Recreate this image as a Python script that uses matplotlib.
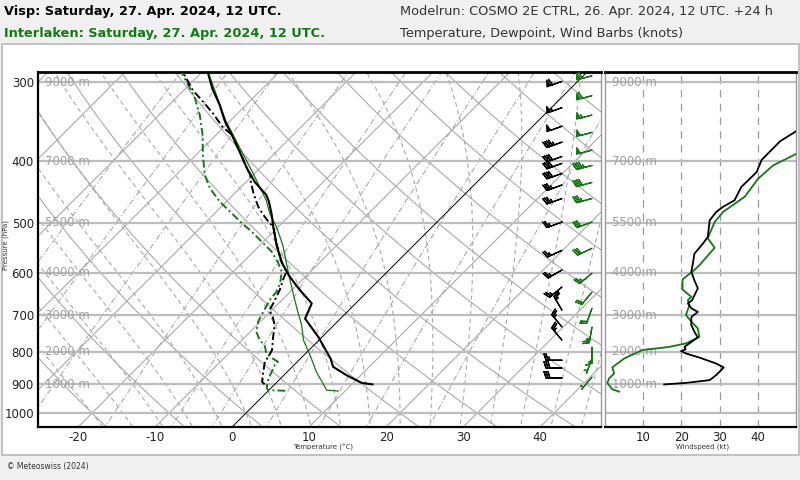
import numpy as np
import matplotlib
matplotlib.use("Agg")
import matplotlib.pyplot as plt
from matplotlib.transforms import blended_transform_factory
from matplotlib.patches import Rectangle
from matplotlib.ticker import NullLocator

# ---------------- data ----------------
visp_t_p = [901, 896, 871, 845, 820, 758, 709, 671, 635, 605, 577, 543, 507, 486,
            463, 452, 431, 410, 386, 363, 346, 326, 307, 290]
visp_t = [12.7, 11.1, 8.1, 5.3, 3.9, -0.5, -4.6, -5.7, -9.4, -12.4, -15.0, -17.8, -20.7, -22.4,
          -24.5, -25.7, -28.9, -31.7, -34.8, -38.0, -40.6, -43.4, -46.5, -49.1]

visp_td_p = [901, 892, 861, 830, 815, 795, 762, 726, 705, 688, 671, 639, 613, 598, 577, 543,
             507, 501, 486, 472, 449, 431, 420, 410, 386, 363, 353, 336, 322, 309, 290]
visp_td = [-1.3, -2.0, -3.1, -4.2, -4.4, -4.8, -6.2, -7.7, -9.0, -10.3, -10.7, -11.6, -12.6, -13.1,
           -15.0, -17.8, -20.7, -21.6, -23.5, -25.2, -27.6, -29.4, -30.4, -31.7, -34.8, -38.0,
           -40.2, -43.2, -46.0, -48.8, -52.3]

intl_t_p = [923, 920, 861, 810, 767, 726, 683, 613, 543, 508, 486, 461, 418, 389, 345, 289]
intl_t = [9.1, 7.5, 3.8, 0.8, -2.0, -4.2, -7.0, -11.8, -17.0, -20.2, -22.6, -25.0, -30.2,
          -34.1, -40.6, -49.2]

intl_td_p = [922, 920, 914, 903, 881, 861, 840, 830, 820, 805, 781, 767, 744, 717, 692, 663,
             643, 624, 598, 577, 556, 536, 514, 501, 480, 463, 441, 420, 391, 363, 338, 318,
             303, 290]
intl_td = [2.2, -0.1, -0.5, -0.9, -1.6, -2.0, -2.5, -2.5, -3.6, -5.1, -6.4, -7.7, -9.2, -10.3,
           -10.9, -11.6, -11.8, -12.4, -13.7, -15.5, -17.6, -20.2, -23.2, -25.2, -28.3, -30.9,
           -33.9, -36.3, -39.1, -41.8, -44.7, -47.5, -50.1, -52.5]

visp_ws_p = [901, 896, 887, 871, 847, 835, 817, 805, 798, 793, 786, 759, 744, 726, 705, 692,
             683, 671, 663, 635, 617, 598, 580, 560, 540, 527, 496, 481, 472, 461, 439, 416,
             398, 372, 358, 340]
visp_ws = [15.5, 21.2, 27.4, 29.1, 31.1, 29.1, 24.7, 21.2, 19.9, 21.1, 20.8, 24.3, 23.4, 22.6,
           22.6, 24.3, 22.6, 21.7, 22.8, 24.3, 23.4, 22.6, 23.0, 23.4, 25.6, 26.9, 27.4, 29.1,
           30.9, 33.9, 35.7, 39.7, 41.0, 45.8, 50.2, 54.0]

intl_ws_p = [925, 917, 896, 881, 866, 847, 820, 795, 786, 776, 758, 735, 717, 700, 675, 663,
             655, 638, 615, 594, 584, 548, 529, 499, 481, 455, 426, 406, 389, 370]
intl_ws = [3.7, 1.9, 0.6, 1.1, 2.4, 1.9, 5.0, 9.8, 16.8, 21.2, 24.7, 24.3, 22.6, 21.2, 22.1,
           21.7, 22.6, 20.3, 20.3, 23.4, 24.7, 28.7, 26.9, 28.7, 30.9, 36.6, 40.1, 44.0, 50.2,
           54.0]

visp_barb_p = [299, 329, 352, 373, 393, 403, 418, 436, 458, 499, 553, 594, 632, 688, 731, 767,
               825, 849, 880]
visp_barb_spd = [60, 55, 50, 46, 42, 40, 39, 35, 34, 27, 24, 23, 24, 24, 23, 24, 27, 31, 28]
visp_barb_dir = [250, 250, 250, 250, 250, 250, 250, 250, 250, 250, 245, 240, 230, 330, 320,
                 320, 270, 270, 270]

intl_barb_p = [293, 315, 338, 360, 384, 406, 432, 458, 499, 549, 601, 644, 683, 731, 787, 819,
               877]
intl_barb_spd = [60, 58, 55, 52, 50, 44, 39, 36, 29, 29, 24, 21, 22, 24, 17, 5, 4]
intl_barb_dir = [255, 255, 255, 255, 255, 255, 255, 255, 250, 245, 230, 220, 200, 190, 180,
                 200, 220]

p_levels = [300, 400, 500, 600, 700, 800, 900, 1000]
height_labels = {300: "9000 m", 400: "7000 m", 500: "5500 m", 600: "4000 m",
                 700: "3000 m", 800: "2000 m", 900: "1000 m"}
t_ticks = [-20, -10, 0, 10, 20, 30, 40]
ws_ticks = [10, 20, 30, 40]

title_visp = "Visp: Saturday, 27. Apr. 2024, 12 UTC."
title_intl = "Interlaken: Saturday, 27. Apr. 2024, 12 UTC."
title_run = "Modelrun: COSMO 2E CTRL, 26. Apr. 2024, 12 UTC. +24 h"
title_var = "Temperature, Dewpoint, Wind Barbs (knots)"

# ---------------- figure layout ----------------
W, H = 800, 480
GREEN = "#117a11"
GRID = "#a9a9a9"
fig = plt.figure(figsize=(8, 4.8), dpi=100, facecolor="#f0f0f0")

def fy(py):
    return 1 - py / H

fig.patches.append(Rectangle((1.5 / W, fy(455)), 797 / W, (455 - 44) / H,
                             transform=fig.transFigure, facecolor="white",
                             edgecolor="#b8b8b8", lw=1.2, zorder=-5))

L, R, T, B = 38, 601, 72, 427
ax = fig.add_axes([L / W, fy(B), (R - L) / W, (B - T) / H])
ax2 = fig.add_axes([605 / W, fy(B), (796 - 605) / W, (B - T) / H])

PB, PT = 1052.0, 289.0
XMIN, XMAX = -25.2, 47.9
px_per_deg = (R - L) / (XMAX - XMIN)
px_per_ln = (B - T) / np.log(PB / PT)
S = px_per_ln / px_per_deg

def skx(t, p):
    return np.asarray(t) + S * np.log(PB / np.asarray(p, dtype=float))

for a in (ax, ax2):
    a.set_yscale("log")
    a.set_ylim(PB, PT)
    a.yaxis.set_minor_locator(NullLocator())
    a.xaxis.set_minor_locator(NullLocator())
    a.tick_params(length=0, labelsize=8.5, colors="#222222", pad=3)
ax.set_xlim(XMIN, XMAX)
ax2.set_xlim(0, 50)

# ---------------- background lines ----------------
pp = np.exp(np.linspace(np.log(1100), np.log(250), 200))
for t0 in range(-140, 60, 10):
    if t0 == 0:
        ax.plot(skx(np.full_like(pp, 0.0), pp), pp, color="black", lw=0.7, zorder=2)
    else:
        ax.plot(skx(np.full_like(pp, float(t0)), pp), pp, color=GRID, lw=0.8, zorder=1)

for th in range(-40, 220, 10):
    tk = (th + 273.15) * (pp / 1000.0) ** 0.2857 - 273.15
    ax.plot(skx(tk, pp), pp, color=GRID, lw=0.8, zorder=1)

Rd, cp, Lv, eps = 287.04, 1005.7, 2.501e6, 0.622

def es(tc):
    return 6.112 * np.exp(17.67 * tc / (tc + 243.5))

def dTdlnp(tk, p):
    e = es(tk - 273.15)
    rs = eps * e / (p - e)
    return (Rd * tk + Lv * rs) / (cp + Lv * Lv * rs * eps / (Rd * tk * tk))

def moist(t0):
    out = {}
    for pend in (250.0, 1100.0):
        lnp = np.linspace(np.log(1000.0), np.log(pend), 300)
        tk = t0 + 273.15
        temps = [tk]
        for i in range(1, len(lnp)):
            h = lnp[i] - lnp[i - 1]
            p0 = np.exp(lnp[i - 1])
            k1 = dTdlnp(tk, p0)
            k2 = dTdlnp(tk + 0.5 * h * k1, np.exp(lnp[i - 1] + 0.5 * h))
            k3 = dTdlnp(tk + 0.5 * h * k2, np.exp(lnp[i - 1] + 0.5 * h))
            k4 = dTdlnp(tk + h * k3, np.exp(lnp[i]))
            tk = tk + h * (k1 + 2 * k2 + 2 * k3 + k4) / 6
            temps.append(tk)
        out[pend] = (np.exp(lnp), np.array(temps) - 273.15)
    p = np.concatenate([out[1100.0][0][::-1], out[250.0][0][1:]])
    t = np.concatenate([out[1100.0][1][::-1], out[250.0][1][1:]])
    return p, t

for t0 in range(-20, 48, 4):
    p, t = moist(float(t0))
    ax.plot(skx(t, p), p, color=GRID, lw=0.8, ls=(0, (4, 3)), zorder=1)

for w in [0.1, 0.2, 0.4, 1, 2, 3, 5, 8, 12, 20]:
    wk = w / 1000.0
    e = pp * wk / (eps + wk)
    lg = np.log(e / 6.112)
    td = 243.5 * lg / (17.67 - lg)
    ax.plot(skx(td, pp), pp, color=GRID, lw=0.8, ls=(0, (5, 2, 1, 2)), zorder=1)

for a in (ax, ax2):
    for p in p_levels:
        a.axhline(p, color="#bdbdbd", lw=1.6, zorder=1.5)
for w in ws_ticks:
    ax2.axvline(w, color="#9a9a9a", lw=0.9, ls=(0, (6, 5)), zorder=1)

for p, lab in height_labels.items():
    ax.text(0.012, p, lab, transform=blended_transform_factory(ax.transAxes, ax.transData),
            color="#a0a0a0", fontsize=8.5, va="center", ha="left", zorder=3)
    ax2.text(0.035, p, lab, transform=blended_transform_factory(ax2.transAxes, ax2.transData),
             color="#a0a0a0", fontsize=8.5, va="center", ha="left", zorder=3)

# ---------------- soundings ----------------
ax.plot(skx(intl_t, intl_t_p), intl_t_p, color=GREEN, lw=0.9, zorder=5)
ax.plot(skx(intl_td, intl_td_p), intl_td_p, color=GREEN, lw=1.4,
        ls=(0, (4, 1.6, 1, 1.6)), zorder=5)
ax.plot(skx(visp_t, visp_t_p), visp_t_p, color="black", lw=1.5, zorder=6)
ax.plot(skx(visp_td, visp_td_p), visp_td_p, color="black", lw=1.4,
        ls=(0, (4, 1.6, 1, 1.6)), zorder=6)

# wind barbs
bt = blended_transform_factory(ax.transAxes, ax.transData)
def uv(spd, d):
    spd = np.asarray(spd, float)
    d = np.deg2rad(np.asarray(d, float))
    return -spd * np.sin(d), -spd * np.cos(d)

BL = 4.8
u, v = uv(visp_barb_spd, visp_barb_dir)
ax.barbs(np.full(len(visp_barb_p), (562 - L) / (R - L)), visp_barb_p, u, v, transform=bt,
         length=BL, lw=0.9, color="black", sizes=dict(emptybarb=0.0), zorder=7)
u, v = uv(intl_barb_spd, intl_barb_dir)
ax.barbs(np.full(len(intl_barb_p), (592 - L) / (R - L)), intl_barb_p, u, v, transform=bt,
         length=BL, lw=0.9, color=GREEN, barbcolor=GREEN, flagcolor=GREEN,
         sizes=dict(emptybarb=0.0), zorder=7)

# wind speed profiles
ax2.plot(intl_ws, intl_ws_p, color=GREEN, lw=1.3, zorder=5)
ax2.plot(visp_ws, visp_ws_p, color="black", lw=1.3, zorder=6)

# ---------------- axes cosmetics ----------------
ax.set_yticks(p_levels)
ax.set_yticklabels([str(p) for p in p_levels])
ax.set_xticks(t_ticks)
ax.set_xticklabels([str(t) for t in t_ticks])
ax2.set_yticks([])
ax2.set_xticks(ws_ticks)
ax2.set_xticklabels([str(t) for t in ws_ticks])

for a in (ax, ax2):
    a.spines["top"].set_linewidth(2.0)
    a.spines["top"].set_color("black")
    a.spines["bottom"].set_linewidth(1.6)
    a.spines["bottom"].set_color("black")
    a.spines["right"].set_color("#9a9a9a")
    a.spines["right"].set_linewidth(1.0)
ax.spines["left"].set_linewidth(1.6)
ax.spines["left"].set_color("black")
ax2.spines["left"].set_color("#9a9a9a")
ax2.spines["left"].set_linewidth(1.0)

fig.text(6 / W, fy(245), "Pressure (hPa)", rotation=90, fontsize=5, va="center",
         ha="center", color="#333333")
fig.text(323 / W, fy(447), "Temperature (°C)", fontsize=5, va="center", ha="center",
         color="#333333")
fig.text(703 / W, fy(447), "Windspeed (kt)", fontsize=5, va="center", ha="center",
         color="#333333")

# ---------------- header / footer ----------------
HF = 9.3
fig.text(4 / W, fy(11), title_visp, fontsize=HF, fontweight="bold", va="center",
         color="black")
fig.text(4 / W, fy(33), title_intl, fontsize=HF, fontweight="bold", va="center",
         color=GREEN)
fig.text(400 / W, fy(11), title_run, fontsize=HF, va="center", color="#333333")
fig.text(400 / W, fy(33), title_var, fontsize=HF, va="center", color="#333333")
fig.text(7 / W, fy(467), "© Meteoswiss (2024)", fontsize=5.5, va="center", color="#333333")

fig.savefig("out.png", dpi=100, facecolor=fig.get_facecolor())
